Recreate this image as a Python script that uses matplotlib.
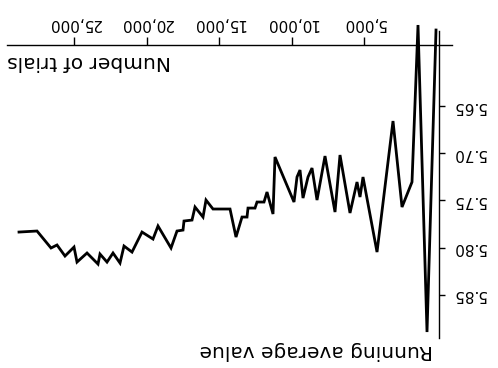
import matplotlib
matplotlib.use("Agg")
import matplotlib.pyplot as plt

# Data (trials, running average)
trials = [34, 655, 1276, 1690, 2379, 3000, 4103, 5069, 5276, 5483, 5966, 6655,
          7000, 7690, 8241, 8586, 8862, 9207, 9414, 9621, 9828, 11138, 11276,
          11690, 11897, 12379, 12517, 13000, 13069, 13414, 13828, 14241, 15138,
          15414, 15897, 16103, 16655, 16862, 17414, 17483, 17897, 18310, 19207,
          19552, 20310, 21000, 21552, 21828, 22310, 22724, 23207, 23345, 24103,
          24793, 25000, 25621, 26172, 26586, 27552, 28793]
running_avg = [5.5695, 5.8894, 5.5642, 5.7305, 5.7570, 5.6659, 5.8047, 5.7252,
               5.7464, 5.7305, 5.7633, 5.7019, 5.7623, 5.7030, 5.7496, 5.7157,
               5.7252, 5.7475, 5.7178, 5.7252, 5.7517, 5.7040, 5.7644, 5.7411,
               5.7517, 5.7517, 5.7581, 5.7581, 5.7676, 5.7676, 5.7888, 5.7591,
               5.7591, 5.7591, 5.7496, 5.7676, 5.7570, 5.7708, 5.7718, 5.7814,
               5.7824, 5.8004, 5.7771, 5.7909, 5.7835, 5.8047, 5.7983, 5.8163,
               5.8057, 5.8153, 5.8068, 5.8174, 5.8057, 5.8153, 5.7994, 5.8089,
               5.7972, 5.8004, 5.7824, 5.7835]

x_ticks = [5000, 10000, 15000, 20000, 25000]
x_ticklabels = ["5,000", "10,000", "15,000", "20,000", "25,000"]
y_ticks = [5.65, 5.70, 5.75, 5.80, 5.85]
y_ticklabels = ["5.65", "5.70", "5.75", "5.80", "5.85"]
x_label = "Number of trials"
y_label = "Running average value"

plt.rcParams['font.family'] = ['DejaVu Sans']
fig = plt.figure(figsize=(4.98, 3.68), dpi=100)
ax = fig.add_axes([0, 0, 1, 1])
ax.patch.set_alpha(0)

# whole chart is shown rotated by 180 degrees
ax.set_xlim(30104, -4241)
ax.set_ylim(5.9275, 5.5377)

ax.plot(trials, running_avg, color='black', lw=2.0, solid_joinstyle='miter',
        clip_on=False)

for s in ['bottom', 'left']:
    ax.spines[s].set_visible(False)
ax.spines['top'].set_position(('data', 5.585))
ax.spines['top'].set_bounds(-1070, 29620)
ax.spines['right'].set_position(('data', -140))
ax.spines['right'].set_bounds(5.571, 5.896)
for s in ['top', 'right']:
    ax.spines[s].set_linewidth(1.0)

ax.xaxis.tick_top()
ax.yaxis.tick_right()
ax.set_xticks(x_ticks)
ax.set_xticklabels(x_ticklabels)
ax.set_yticks(y_ticks)
ax.set_yticklabels(y_ticklabels)
ax.tick_params(axis='x', direction='out', length=6, width=1.0, pad=4,
               labelsize=11, labelrotation=180)
ax.tick_params(axis='y', direction='out', length=4, width=1.0, pad=6,
               labelsize=11, labelrotation=180)
for lab in ax.get_yticklabels():
    lab.set_va('center')

ax.text(29620, 5.6025, x_label, rotation=180, ha='left', va='center',
        fontsize=14.5)
ax.text(241, 5.9085, y_label, rotation=180, ha='right', va='center',
        fontsize=14.5)

fig.savefig("out.png", dpi=100)
